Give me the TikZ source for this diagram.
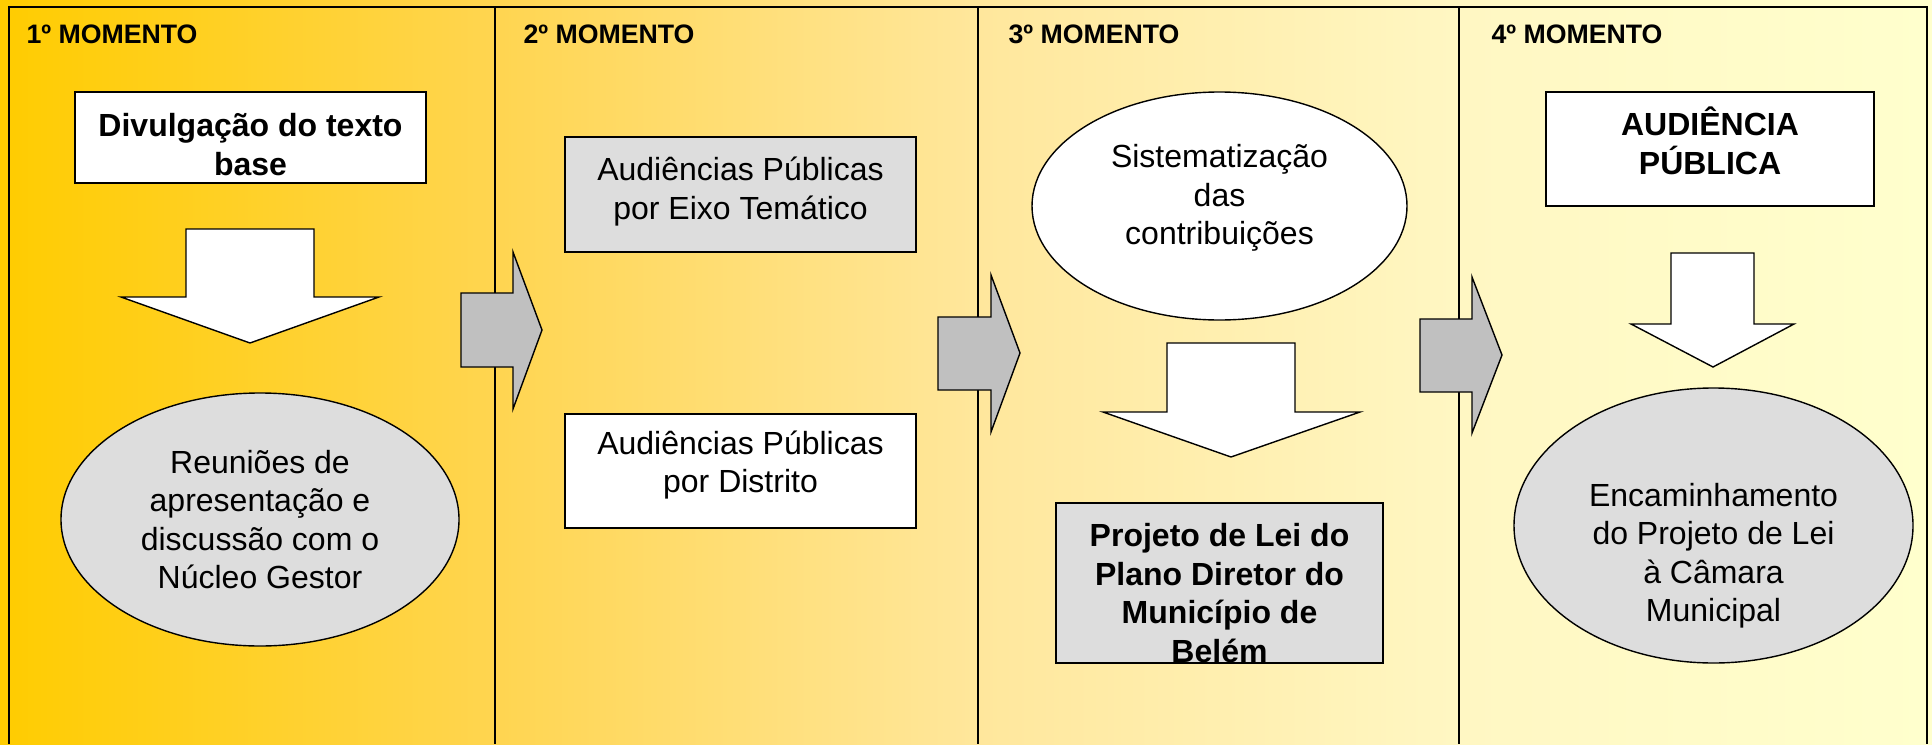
\documentclass[tikz,border=0pt]{standalone}
\usepackage{fontspec}
\setmainfont{Liberation Sans}
\usepackage{xcolor}
\usetikzlibrary{positioning,shapes.geometric}

\definecolor{fundoA}{RGB}{255,204,0}
\definecolor{fundoB}{RGB}{255,213,80}
\definecolor{fundoC}{RGB}{255,231,156}
\definecolor{fundoD}{RGB}{255,247,195}
\definecolor{fundoE}{RGB}{255,255,205}
\definecolor{cinzaCaixa}{RGB}{221,221,221}
\definecolor{cinzaSeta}{RGB}{192,192,192}
\pgfdeclarehorizontalshading{momentos}{100bp}{color(0bp)=(fundoA); color(25bp)=(fundoA); color(37.8bp)=(fundoB); color(50.3bp)=(fundoC); color(62.8bp)=(fundoD); color(75bp)=(fundoE); color(100bp)=(fundoE)}

\begin{document}
\begin{tikzpicture}[x=1pt,y=-1pt,
  caixa/.style={draw,line width=1.8pt,rectangle,inner sep=0pt},
  balao/.style={draw,line width=1.4pt,ellipse,inner sep=0pt,fill=cinzaCaixa},
  seta/.style={draw,line width=1.4pt,line join=miter},
  titulo/.style={anchor=base west,font=\fontsize{26.7}{30}\selectfont\bfseries},
  texto/.style={align=center,font=\fontsize{32}{38.5}\selectfont},
  negrito/.style={align=center,font=\fontsize{32}{38.5}\selectfont\bfseries}]
\useasboundingbox (0,0) rectangle (1932,744);
% fundo e colunas
\shade[shading=momentos] (0,0) rectangle (1932,744);
\draw[line width=1.4pt] (9,744) -- (9,7) -- (1927,7) -- (1927,744);
\foreach \x in {495,978,1459}
  \draw[line width=1.2pt] (\x,7) -- (\x,744);
\node[titulo] (m1) at (23,43) {1º MOMENTO};
\node[titulo] (m2) at (520,43) {2º MOMENTO};
\node[titulo] (m3) at (1005,43) {3º MOMENTO};
\node[titulo] (m4) at (1488,43) {4º MOMENTO};
% setas entre momentos
\draw[seta,fill=cinzaSeta] (461,293) -- (513,293) -- (513,252) -- (542,330) -- (513,409) -- (513,367) -- (461,367) -- cycle;
\draw[seta,fill=cinzaSeta] (938,317) -- (991,317) -- (991,275) -- (1020,353) -- (991,432) -- (991,390) -- (938,390) -- cycle;
\draw[seta,fill=cinzaSeta] (1420,319) -- (1472,319) -- (1472,277) -- (1502,355) -- (1472,433) -- (1472,392) -- (1420,392) -- cycle;
% 1o momento
\node[caixa,fill=white,minimum width=351pt,minimum height=91pt,
  label={[negrito,yshift=-7pt]center:Divulgação do texto\\base}] (divul) at (250.5,137.5) {};
\draw[seta,fill=white] (186,229) -- (314,229) -- (314,297) -- (379,297) -- (250,343) -- (121,297) -- (186,297) -- cycle;
\node[balao,minimum width=398pt,minimum height=253pt,
  label={[texto]center:Reuniões de\\apresentação e\\discussão com o\\Núcleo Gestor}] (reun) at (260,519.5) {};
% 2o momento
\node[caixa,fill=cinzaCaixa,minimum width=351pt,minimum height=115pt,
  label={[texto,yshift=3pt]center:Audiências Públicas\\por Eixo Temático}] (eixo) at (740.5,194.5) {};
\node[caixa,fill=white,minimum width=351pt,minimum height=114pt,below=160pt of eixo,
  label={[texto,yshift=6pt]center:Audiências Públicas\\por Distrito}] (distr) {};
% 3o momento
\node[balao,fill=white,minimum width=375pt,minimum height=228pt,
  label={[texto,yshift=8pt]center:Sistematização\\das\\contribuições}] (siste) at (1219.5,206) {};
\draw[seta,fill=white] (1167,343) -- (1295,343) -- (1295,412) -- (1360,412) -- (1231,457) -- (1103,412) -- (1167,412) -- cycle;
\node[caixa,fill=cinzaCaixa,minimum width=327pt,minimum height=160pt,
  label={[negrito,yshift=-10pt]center:Projeto de Lei do\\Plano Diretor do\\Município de\\Belém}] (proj) at (1219.5,583) {};
% 4o momento
\node[caixa,fill=white,minimum width=328pt,minimum height=114pt,
  label={[negrito,yshift=8pt]center:AUDIÊNCIA\\PÚBLICA}] (audi) at (1710,149) {};
\draw[seta,fill=white] (1671,253) -- (1754,253) -- (1754,324) -- (1794,324) -- (1713,367) -- (1631,324) -- (1671,324) -- cycle;
\node[balao,minimum width=399pt,minimum height=275pt,
  label={[texto,yshift=-30pt]center:Encaminhamento\\do Projeto de Lei\\à Câmara\\Municipal}] (encam) at (1713.5,525.5) {};
\end{tikzpicture}
\end{document}
